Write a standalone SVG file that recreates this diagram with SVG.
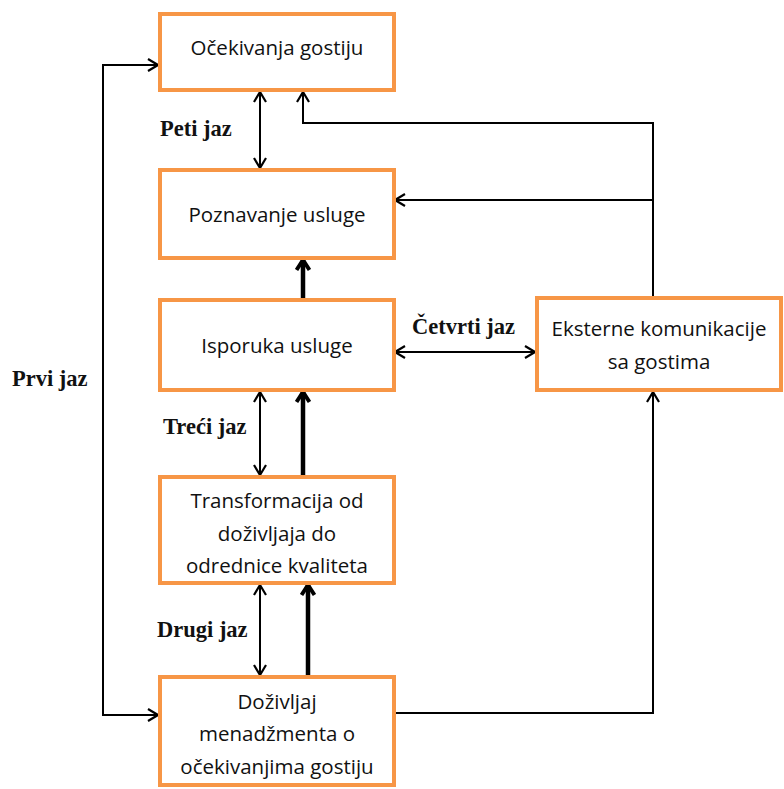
<svg xmlns="http://www.w3.org/2000/svg" width="784" height="789" viewBox="0 0 784 789">
<style>
.box{fill:#fff;stroke:#f79646;stroke-width:4}
.t{font-family:"Open Sans","Liberation Sans",Arial,sans-serif;font-size:20.5px;fill:#111;text-anchor:middle}
.lbl{font-family:"Liberation Serif","Times New Roman",serif;font-size:22.5px;font-weight:bold;fill:#111}
.c{fill:none;stroke:#000;stroke-width:2}
.k{fill:none;stroke:#000;stroke-width:4.5}
</style>
<defs>
<marker id="a" viewBox="0 0 14 14" refX="13" refY="7" markerWidth="14" markerHeight="14" markerUnits="userSpaceOnUse" orient="auto-start-reverse">
<polyline points="3,1 13,7 3,13" fill="none" stroke="#000" stroke-width="2.2"/>
</marker>
<marker id="b" viewBox="0 0 16 16" refX="14" refY="8" markerWidth="16" markerHeight="16" markerUnits="userSpaceOnUse" orient="auto">
<polyline points="4,1.5 14,8 4,14.5" fill="none" stroke="#000" stroke-width="4"/>
</marker>
</defs>
<g id="connectors">
<line class="c" x1="260" y1="92" x2="260" y2="168" marker-start="url(#a)" marker-end="url(#a)"/>
<line class="c" x1="260" y1="392" x2="260" y2="475" marker-start="url(#a)" marker-end="url(#a)"/>
<line class="c" x1="260" y1="585" x2="260" y2="675" marker-start="url(#a)" marker-end="url(#a)"/>
<line class="c" x1="395" y1="352" x2="535" y2="352" marker-start="url(#a)" marker-end="url(#a)"/>
<line class="k" x1="303" y1="298" x2="303" y2="260" marker-end="url(#b)"/>
<line class="k" x1="303" y1="475" x2="303" y2="392" marker-end="url(#b)"/>
<line class="k" x1="308" y1="675" x2="308" y2="585" marker-end="url(#b)"/>
<polyline class="c" points="653,298 653,123 303,123 303,92" marker-end="url(#a)"/>
<polyline class="c" points="653,200 395,200" marker-end="url(#a)"/>
<polyline class="c" points="158,65 103,65 103,715 158,715" marker-start="url(#a)" marker-end="url(#a)"/>
<polyline class="c" points="396,713 653,713 653,392" marker-end="url(#a)"/>
</g>
<g id="n1"><rect class="box" x="160" y="14" width="234" height="76"/><text class="t" x="277" y="55">Očekivanja gostiju</text></g>
<g id="n2"><rect class="box" x="160" y="170" width="234" height="88"/><text class="t" x="277" y="222">Poznavanje usluge</text></g>
<g id="n3"><rect class="box" x="160" y="300" width="234" height="90"/><text class="t" x="277" y="353">Isporuka usluge</text></g>
<g id="n4"><rect class="box" x="160" y="477" width="234" height="106"/><text class="t" x="277" y="508">Transformacija od</text><text class="t" x="277" y="541">doživljaja do</text><text class="t" x="277" y="573">odrednice kvaliteta</text></g>
<g id="n5"><rect class="box" x="160" y="677" width="234" height="108"/><text class="t" x="277" y="709">Doživljaj</text><text class="t" x="277" y="741">menadžmenta o</text><text class="t" x="277" y="774">očekivanjima gostiju</text></g>
<g id="n6"><rect class="box" x="537" y="298" width="244" height="92"/><text class="t" x="659" y="336">Eksterne komunikacije</text><text class="t" x="659" y="369">sa gostima</text></g>
<g id="labels">
<text class="lbl" x="160" y="136">Peti jaz</text>
<text class="lbl" x="163" y="434">Treći jaz</text>
<text class="lbl" x="412" y="334">Četvrti jaz</text>
<text class="lbl" x="157" y="637">Drugi jaz</text>
<text class="lbl" x="12" y="386">Prvi jaz</text>
</g>
</svg>
